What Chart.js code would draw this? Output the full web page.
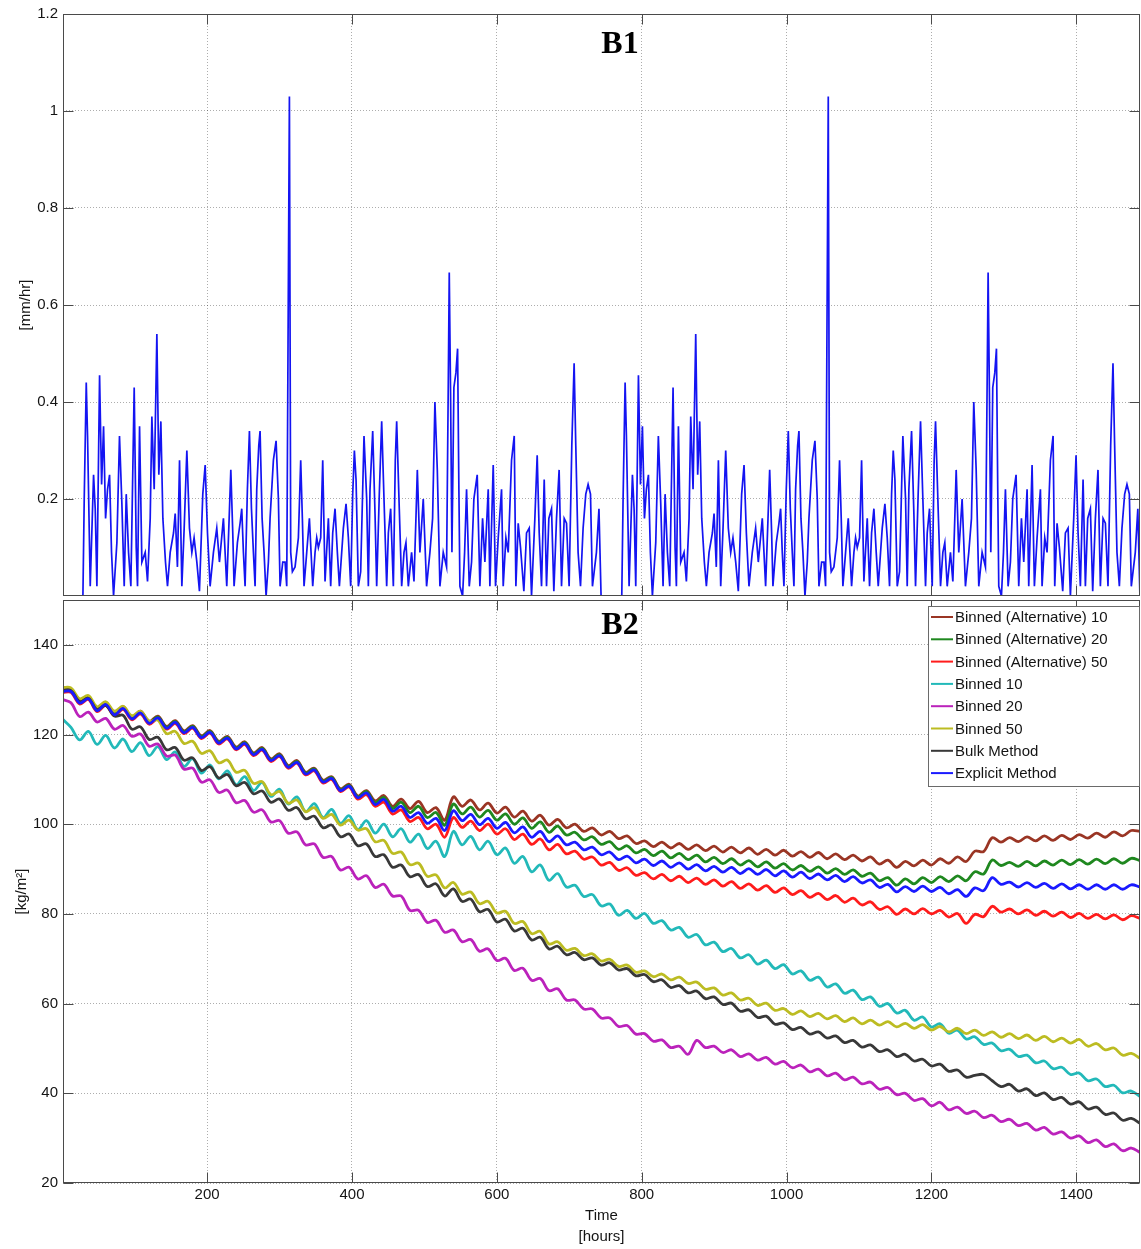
<!DOCTYPE html>
<html>
<head>
<meta charset="utf-8">
<title>B1 / B2</title>
<script src="https://cdn.jsdelivr.net/npm/chart.js@4.4.1/dist/chart.umd.min.js"></script>
<style>
  html, body { margin:0; padding:0; background:#fff; }
  #wrap { position:relative; width:1141px; height:1249px; overflow:hidden; }
  #rain { position:absolute; left:0; top:0; }
  #water { position:absolute; left:0; top:598px; }
</style>
</head>
<body>
<div id="wrap">
  <canvas id="rain" width="1141" height="598"></canvas>
  <canvas id="water" width="1141" height="651"></canvas>
</div>
<script>
// axis ticks
const tickHours = [200, 400, 600, 800, 1000, 1200, 1400];
const rainTicks = [0.2, 0.4, 0.6, 0.8, 1, 1.2];
const waterTicks = [20, 40, 60, 80, 100, 120, 140];

// B1: precipitation [hour, mm/hr]; the forcing repeats after 31 days
const cycleHours = 744;
const rainCycle = [
  [0,0],[28.5,0],[30.3,0.2],[33.1,0.44],[34.9,0.33],[38.6,0.02],[43.2,0.25],[45.5,0.18],[47.8,0.02],[51.5,0.455],
  [54.3,0.23],[57,0.35],[59.8,0.16],[62.5,0.22],[65.3,0.25],[68,0.09],[70.8,0],[75.4,0.11],[79,0.33],[82.3,0.19],
  [85.5,0.02],[88.3,0.21],[91.5,0.09],[94.7,0.02],[99.3,0.43],[102.1,0.1],[103.9,0.02],[106.7,0.35],[109.9,0.07],[114.5,0.09],
  [117.7,0.03],[121.4,0.16],[123.7,0.37],[126.9,0.22],[130.6,0.54],[133.3,0.25],[136.1,0.36],[138.9,0.16],[142.5,0.07],[145.3,0.02],
  [149,0.09],[153.6,0.13],[155.9,0.17],[159,0.06],[161.9,0.28],[165.1,0.02],[168.3,0.14],[172,0.3],[175.6,0.14],[178.9,0.09],
  [182,0.12],[185.8,0.07],[189.4,0.01],[194,0.21],[197.3,0.27],[200.5,0.13],[204.1,0.02],[208.7,0.09],[213.3,0.14],[217,0.07],
  [222.5,0.16],[227.1,0.02],[230.4,0.16],[232.7,0.26],[235.4,0.13],[237.2,0.02],[241.8,0.11],[245.5,0.15],[247.8,0.18],[250.1,0.09],
  [252.4,0.02],[255.6,0.22],[258.4,0.34],[261.2,0.18],[263.9,0.09],[266.2,0.02],[268.5,0.22],[271.3,0.31],[273.1,0.34],[275.9,0.16],
  [278.6,0.09],[281.4,0],[284.6,0.07],[286.9,0.16],[291.5,0.28],[295.2,0.32],[298.4,0.2],[300.7,0.02],[304.4,0.07],[307.6,0.07],
  [309.9,0.02],[311.7,0.52],[313.6,1.03],[315.4,0.09],[317.7,0.05],[321.4,0.06],[326,0.12],[329.2,0.28],[331.5,0.16],[333.8,0.02],
  [337.5,0.09],[341.2,0.16],[343.5,0.09],[345.8,0.02],[349,0.09],[351.3,0.12],[353.6,0.1],[356.8,0.12],[359.6,0.28],[362.8,0.03],
  [367.4,0.16],[370.6,0.02],[373.4,0.13],[376.6,0.18],[379.8,0.09],[382.6,0.02],[385.8,0.09],[388.1,0.14],[391.8,0.19],[395,0.12],
  [398.2,0.02],[401,0.21],[403.3,0.3],[405.6,0.24],[408.8,0.02],[412,0.05],[416.6,0.33],[420.3,0.2],[422.6,0.02],[424.9,0.22],
  [428.6,0.34],[431.8,0.17],[434.1,0.02],[437.7,0.21],[441,0.36],[444.2,0.2],[447.9,0.02],[450.2,0.13],[453.4,0.18],[457.1,0.02],
  [459.8,0.28],[461.7,0.36],[465.3,0.18],[468.6,0.02],[471.8,0.09],[474.5,0.11],[477.8,0.02],[482.3,0.09],[485.6,0.03],[488.3,0.16],
  [490.2,0.26],[493.8,0.09],[498.4,0.2],[503,0.02],[507.6,0.09],[511.3,0.16],[514.5,0.4],[517.8,0.26],[521.4,0.02],[526,0.09],
  [530.6,0.06],[532.9,0.43],[534.3,0.667],[536.1,0.42],[538,0.09],[540.7,0.43],[543.5,0.46],[545.8,0.51],[547.6,0.22],[549,0.02],
  [552.7,0],[555.5,0.09],[558.2,0.22],[561.9,0.02],[565.1,0.07],[568.3,0.2],[571.1,0.23],[572.9,0.25],[576.6,0.02],[580.3,0.16],
  [583.5,0.07],[588.1,0.22],[590.4,0.02],[595,0.27],[598.2,0.02],[601.9,0.12],[606.5,0.22],[608.8,0.02],[612.5,0.12],[615.7,0.09],
  [620.3,0.28],[624,0.33],[626.3,0.02],[629.5,0.15],[632.7,0.1],[637.3,0.01],[641,0.13],[644.7,0.14],[647.9,0],[652.5,0.16],
  [655.7,0.29],[658.5,0.13],[661.7,0.02],[665.4,0.24],[668.6,0.02],[671.8,0.16],[675.5,0.18],[678.7,0.01],[682.4,0.16],[686,0.26],
  [689.3,0.02],[693,0.16],[696.2,0.15],[699.8,0.02],[703.5,0.31],[706.7,0.48],[709,0.31],[712.2,0.09],[715.5,0.02],[719.1,0.14],
  [722.8,0.21],[726,0.23],[729.3,0.21],[732,0.02],[737.5,0.09],[741,0.18],[743.9,0]
];

// B2: one value every 12 hours, 0 .. 1488
const hours = Array.from({length: 125}, (_, i) => i * 12);

const altBinned10 = [
  130.0,130.0,127.4,128.4,125.7,127.1,124.8,126.2,123.9,125.2,
  122.9,124.1,121.8,123.1,120.8,122.0,119.7,120.9,118.5,119.6,
  117.2,118.4,115.9,117.1,114.6,115.7,113.1,114.2,111.6,112.5,
  109.8,110.6,107.9,108.9,106.3,107.5,105.2,106.4,104.0,105.6,
  103.5,105.1,102.6,103.7,100.9,106.1,104.0,105.4,103.2,104.7,
  102.5,103.8,101.6,102.9,100.7,102.0,99.8,101.1,99.2,100.0,
  98.4,99.2,97.6,98.4,96.8,97.4,95.7,96.3,95.0,96.0,
  94.7,95.7,94.4,95.4,94.1,95.1,93.8,94.9,93.6,94.7,
  93.3,94.4,93.1,94.2,92.9,93.9,92.6,93.7,92.3,93.4,
  92.1,93.1,91.8,92.7,91.1,92.0,90.4,91.7,90.7,92.0,
  90.9,92.3,91.3,92.7,91.7,94.0,93.9,97.0,96.0,97.0,
  96.1,97.2,96.3,97.4,96.4,97.5,96.6,97.7,96.9,98.0,
  97.1,98.3,97.4,98.6,98.4
];
const altBinned20 = [
  129.8,129.8,127.2,128.2,125.5,126.9,124.6,126.0,123.7,125.0,
  122.7,123.9,121.6,122.9,120.6,121.8,119.5,120.7,118.3,119.4,
  117.0,118.2,115.7,116.9,114.4,115.5,112.9,114.0,111.4,112.3,
  109.6,110.4,107.7,108.7,106.1,107.3,104.8,106.0,103.5,104.9,
  102.6,104.0,101.5,102.6,99.8,104.5,102.3,103.8,101.6,103.1,
  100.9,102.3,100.0,101.4,99.1,100.5,98.2,99.6,97.6,98.2,
  96.5,97.2,95.5,96.1,94.4,95.2,93.6,94.4,93.0,94.0,
  92.5,93.5,92.1,93.1,91.6,92.6,91.2,92.3,90.9,91.9,
  90.5,91.6,90.2,91.2,89.8,90.8,89.5,90.5,89.1,90.1,
  88.8,89.8,88.4,89.1,87.4,88.1,86.4,87.8,86.7,88.1,
  87.0,88.3,87.2,88.5,87.4,89.4,88.9,92.0,90.8,91.5,
  90.6,91.7,90.7,91.8,90.9,92.0,91.0,92.1,91.1,92.2,
  91.2,92.3,91.3,92.4,91.9
];
const altBinned50 = [
  129.4,129.4,126.8,127.8,125.1,126.5,124.2,125.6,123.3,124.6,
  122.3,123.5,121.2,122.5,120.2,121.4,119.1,120.3,117.9,119.0,
  116.6,117.8,115.3,116.5,114.0,115.1,112.5,113.6,111.0,111.9,
  109.2,110.0,107.3,108.3,105.6,106.6,104.0,104.9,102.3,103.2,
  100.6,101.5,99.0,100.0,97.1,101.5,99.3,100.7,98.6,100.0,
  97.8,99.0,96.6,97.8,95.5,96.7,94.3,95.5,93.4,94.0,
  92.2,92.7,90.9,91.5,89.7,90.3,88.6,89.2,87.8,88.8,
  87.4,88.4,87.0,88.0,86.6,87.6,86.2,87.2,85.7,86.7,
  85.3,86.3,84.8,85.8,84.3,85.2,83.7,84.6,83.2,84.1,
  82.6,83.5,82.0,82.7,81.0,81.6,79.9,81.1,80.0,81.2,
  80.0,80.8,79.3,80.1,77.9,79.9,79.4,81.7,80.4,81.1,
  80.0,80.9,79.7,80.6,79.5,80.4,79.2,80.1,79.0,79.9,
  78.9,79.8,78.7,79.6,79.0
];
const binned10 = [
  123.5,121.6,118.8,120.7,117.8,119.8,117.0,119.0,116.2,118.2,
  115.3,117.3,114.4,116.1,112.9,114.6,111.4,113.2,110.1,111.9,
  108.8,110.6,107.5,109.3,106.2,107.8,104.5,106.1,102.8,104.6,
  101.5,103.3,100.2,101.9,98.8,100.8,98.0,100.0,97.2,99.0,
  96.0,97.8,94.6,96.2,92.8,98.4,95.4,97.3,94.3,96.2,
  93.2,94.7,91.3,92.8,89.4,90.9,87.5,89.0,86.0,86.4,
  83.9,84.3,81.8,82.2,79.7,80.8,79.0,80.1,77.9,78.5,
  76.4,77.0,74.8,75.4,73.1,73.7,71.6,72.3,70.2,70.9,
  68.8,69.7,67.8,68.7,66.6,67.3,65.2,65.9,63.7,64.4,
  62.3,63.0,60.9,61.5,59.4,60.0,57.9,58.5,56.3,57.0,
  54.8,55.5,53.4,54.1,52.1,52.6,50.9,51.2,49.5,49.8,
  48.2,48.5,46.8,47.2,45.5,45.8,44.2,44.5,42.8,43.2,
  41.5,41.8,40.1,40.5,39.3
];
const binned20 = [
  127.8,127.1,124.0,125.0,122.8,123.6,121.2,122.0,119.6,120.1,
  117.4,117.9,115.2,115.4,112.3,112.5,109.4,109.9,107.1,107.6,
  104.8,105.3,102.7,103.2,100.5,100.8,98.0,98.3,95.4,95.6,
  92.6,92.8,89.8,90.4,87.8,88.5,85.9,86.6,84.0,84.0,
  80.8,80.8,78.1,78.6,75.9,76.4,73.8,74.3,71.7,72.2,
  69.6,70.1,67.4,67.9,65.2,65.6,62.9,63.3,60.8,60.8,
  58.8,58.8,56.8,56.8,54.9,55.1,53.2,53.3,51.6,51.9,
  50.2,50.5,48.7,51.8,50.2,50.5,49.1,49.7,48.2,48.8,
  47.4,48.0,46.5,47.1,45.7,46.3,44.8,45.4,43.9,44.5,
  43.0,43.6,42.1,42.5,40.9,41.3,39.7,40.0,38.4,38.8,
  37.2,38.0,36.3,36.9,35.5,36.0,34.6,35.1,33.7,34.2,
  32.8,33.3,31.8,32.4,30.9,31.4,30.0,30.5,29.0,29.6,
  28.1,28.7,27.2,27.8,26.8
];
const binned50 = [
  130.5,130.4,128.0,128.7,126.2,127.3,125.2,126.3,124.2,125.2,
  123.0,123.2,120.2,120.7,118.0,118.5,115.8,116.4,113.7,114.3,
  111.6,112.0,109.1,109.5,106.6,107.3,104.7,105.4,102.8,103.7,
  101.3,102.2,99.8,100.9,98.7,99.0,96.1,96.4,93.5,93.8,
  91.0,91.3,88.4,88.7,85.8,87.0,84.4,84.9,82.3,82.8,
  80.2,80.6,77.9,78.3,75.6,76.1,73.3,73.8,71.9,72.3,
  70.7,71.1,69.5,69.9,68.3,68.6,67.0,67.3,66.0,66.6,
  65.3,65.9,64.5,64.8,63.2,63.5,61.9,62.4,60.8,61.2,
  59.6,60.1,58.5,58.9,57.6,58.4,57.1,57.8,56.6,57.3,
  56.0,56.8,55.5,56.3,55.2,56.0,54.8,55.6,54.5,55.3,
  54.1,54.9,53.7,54.5,53.3,54.1,52.9,53.7,52.5,53.3,
  52.2,53.0,51.8,52.7,51.5,52.3,51.2,52.0,50.5,51.1,
  49.7,50.1,48.5,48.9,47.8
];
const bulkMethod = [
  129.8,129.8,127.3,128.1,125.6,126.5,124.1,124.3,121.2,121.7,
  118.9,119.4,116.6,117.1,114.3,114.8,112.0,112.8,110.3,111.1,
  108.6,109.3,106.8,107.4,104.9,105.6,103.1,103.7,101.2,101.8,
  99.2,99.8,97.2,97.8,95.2,95.6,92.8,93.2,90.4,90.9,
  88.3,88.8,86.1,86.7,84.0,85.6,82.8,83.3,80.5,81.0,
  78.2,78.8,76.2,76.8,74.2,74.8,72.2,72.8,70.9,71.4,
  69.8,70.2,68.6,69.1,67.5,67.8,66.2,66.5,64.9,65.3,
  63.6,64.0,62.4,62.8,61.1,61.5,59.8,60.1,58.3,58.6,
  56.9,57.2,55.4,55.7,54.2,54.7,53.2,53.7,52.3,52.8,
  51.3,51.8,50.3,50.8,49.3,49.7,48.2,48.7,47.2,47.6,
  46.1,46.5,44.9,45.2,43.6,44.0,44.2,42.8,41.5,42.0,
  40.5,41.0,39.5,40.1,38.6,39.1,37.6,38.1,36.5,36.9,
  35.3,35.6,34.0,34.4,33.3
];
const explicitMethod = [
  129.6,129.6,127.0,128.0,125.3,126.7,124.4,125.8,123.5,124.8,
  122.5,123.7,121.4,122.7,120.4,121.6,119.3,120.5,118.1,119.2,
  116.8,118.0,115.5,116.7,114.2,115.3,112.7,113.8,111.2,112.1,
  109.4,110.2,107.5,108.5,105.9,107.0,104.4,105.5,102.9,104.0,
  101.5,102.6,100.2,101.3,98.6,103.0,100.8,102.2,99.9,101.3,
  99.1,100.4,98.1,99.4,97.1,98.4,96.1,97.4,95.4,96.0,
  94.3,94.9,93.2,93.8,92.1,92.9,91.4,92.2,90.8,91.8,
  90.4,91.4,90.0,91.0,89.6,90.6,89.3,90.4,89.0,90.1,
  88.8,89.9,88.5,89.6,88.2,89.3,87.9,88.9,87.6,88.6,
  87.2,88.3,86.9,87.6,85.9,86.6,84.9,86.1,85.0,86.2,
  85.0,85.9,84.5,85.4,83.9,85.8,85.2,88.1,86.6,87.1,
  86.0,87.0,85.9,86.8,85.7,86.7,85.6,86.5,85.5,86.5,
  85.5,86.5,85.5,86.5,86.0
];

const seriesLabels = ['Binned (Alternative) 10', 'Binned (Alternative) 20', 'Binned (Alternative) 50',
  'Binned 10', 'Binned 20', 'Binned 50', 'Bulk Method', 'Explicit Method'];
const seriesValues = [altBinned10, altBinned20, altBinned50, binned10, binned20, binned50, bulkMethod, explicitMethod];
const seriesColors = ['#9a3524', '#1f881f', '#ff1c1c', '#22b9b9', '#bb22bb', '#bcbc22', '#383838', '#1a1aff'];
// explicit method sits on top, the alternative bins underneath
const seriesOrder = [7, 6, 5, 4, 3, 2, 1, 0];

const FONT = '"Liberation Sans", Arial, Helvetica, sans-serif';
const INK = '#141414';

// matlab-ish box: frame, inward tick marks, panel letter
const frame = {
  id: 'frame',
  afterDraw(chart, args, opts) {
    const {ctx, chartArea: a, scales} = chart;
    const L = Math.round(a.left) + 0.5, R = Math.round(a.right) - 0.5;
    const T = Math.round(a.top) + 0.5, B = Math.round(a.bottom) - 0.5;
    ctx.save();
    ctx.strokeStyle = '#4a4a4a';
    ctx.lineWidth = 1;
    ctx.beginPath();
    scales.x.ticks.forEach(t => {
      const px = Math.round(scales.x.getPixelForValue(t.value)) + 0.5;
      ctx.moveTo(px, B); ctx.lineTo(px, B - 10);
      ctx.moveTo(px, T); ctx.lineTo(px, T + 10);
    });
    scales.y.ticks.forEach(t => {
      const py = Math.round(scales.y.getPixelForValue(t.value)) + 0.5;
      ctx.moveTo(L, py); ctx.lineTo(L + 10, py);
      ctx.moveTo(R, py); ctx.lineTo(R - 10, py);
    });
    ctx.stroke();
    ctx.strokeRect(L, T, R - L, B - T);
    ctx.fillStyle = '#000';
    ctx.font = 'bold 32px "Liberation Serif", "DejaVu Serif", serif';
    ctx.textAlign = 'center';
    ctx.textBaseline = 'middle';
    ctx.fillText(opts.label, scales.x.getPixelForValue(opts.at[0]), scales.y.getPixelForValue(opts.at[1]));
    ctx.restore();
  }
};

// boxed legend in the upper right corner of B2
const boxLegend = {
  id: 'boxLegend',
  afterDraw(chart) {
    const {ctx, chartArea: a} = chart;
    const sets = chart.data.datasets;
    const rowH = 22.3;
    const left = Math.round(a.right) - 212, top = Math.round(a.top) + 6;
    const h = Math.round(rowH * sets.length + 2);
    ctx.save();
    ctx.fillStyle = '#fff';
    ctx.fillRect(left, top, a.right - left, h);
    ctx.strokeStyle = '#6a6a6a';
    ctx.lineWidth = 1;
    ctx.strokeRect(left + 0.5, top + 0.5, a.right - left - 1, h);
    ctx.font = '15px ' + FONT;
    ctx.textAlign = 'left';
    ctx.textBaseline = 'middle';
    sets.forEach((ds, i) => {
      const cy = top + 11 + i * rowH;
      ctx.strokeStyle = ds.borderColor;
      ctx.lineWidth = 2;
      ctx.beginPath();
      ctx.moveTo(left + 3, cy); ctx.lineTo(left + 25, cy);
      ctx.stroke();
      ctx.fillStyle = INK;
      ctx.fillText(ds.label, left + 27, cy + 1);
    });
    ctx.restore();
  }
};

const gridOpts = { color: 'rgba(0,0,0,0.32)', lineWidth: 1, drawTicks: false };
const gridBorder = { display: false, dash: [1, 2] };
const fixTicks = list => scale => { scale.ticks = list.map(v => ({value: v})); };
const oneDecimal = v => String(Math.round(v * 10) / 10);
// fixed y-axis width; no extra room for half tick labels above/below the box
const fitY = s => { s.width = 63; s.paddingTop = 0; s.paddingBottom = 0; };

new Chart(document.getElementById('rain'), {
  type: 'line',
  data: {
    datasets: [{
      label: 'precipitation',
      data: rainCycle.map(([h, v]) => ({x: h, y: v}))
        .concat(rainCycle.map(([h, v]) => ({x: h + cycleHours, y: v}))),
      borderColor: '#1414f2',
      borderWidth: 1.7,
      pointRadius: 0,
      tension: 0
    }]
  },
  options: {
    responsive: false,
    animation: false,
    devicePixelRatio: 1,
    layout: { padding: { top: 14, right: 1, bottom: 0, left: 0 } },
    plugins: {
      legend: { display: false },
      tooltip: { enabled: false },
      frame: { label: 'B1', at: [770, 1.136] }
    },
    scales: {
      x: {
        type: 'linear', min: 1, max: 1488,
        afterBuildTicks: fixTicks(tickHours),
        afterFit: s => { s.height = 2; s.paddingLeft = 0; s.paddingRight = 0; },
        ticks: { display: false },
        grid: gridOpts, border: gridBorder
      },
      y: {
        min: 0, max: 1.2,
        afterBuildTicks: fixTicks(rainTicks),
        afterFit: fitY,
        ticks: { padding: 5, color: INK, font: { family: FONT, size: 15 }, callback: oneDecimal },
        grid: gridOpts, border: gridBorder,
        title: { display: true, text: '[mm/hr]', color: INK, font: { family: FONT, size: 15 }, padding: { top: 17, bottom: 0 } }
      }
    }
  },
  plugins: [frame]
});

new Chart(document.getElementById('water'), {
  type: 'line',
  data: {
    datasets: seriesValues.map((vals, k) => ({
      label: seriesLabels[k],
      data: hours.map((h, i) => ({x: h, y: vals[i]})),
      borderColor: seriesColors[k],
      borderWidth: 2.8,
      pointRadius: 0,
      tension: 0.35,
      order: seriesOrder[k]
    }))
  },
  options: {
    responsive: false,
    animation: false,
    devicePixelRatio: 1,
    layout: { padding: { top: 2, right: 1, bottom: 0, left: 0 } },
    plugins: {
      legend: { display: false },
      tooltip: { enabled: false },
      frame: { label: 'B2', at: [770, 144.2] }
    },
    scales: {
      x: {
        type: 'linear', min: 1, max: 1488,
        afterBuildTicks: fixTicks(tickHours),
        afterFit: s => { s.height = 66; s.paddingLeft = 0; s.paddingRight = 0; },
        ticks: { padding: 3, color: INK, maxRotation: 0, font: { family: FONT, size: 15 }, callback: v => String(v) },
        grid: gridOpts, border: gridBorder,
        title: { display: true, text: ['Time', '[hours]'], color: INK,
          font: { family: FONT, size: 15, lineHeight: 1.45 }, padding: { top: 0, bottom: 1 } }
      },
      y: {
        min: 20, max: 150,
        afterBuildTicks: fixTicks(waterTicks),
        afterFit: fitY,
        ticks: { padding: 5, color: INK, font: { family: FONT, size: 15 } },
        grid: gridOpts, border: gridBorder,
        title: { display: true, text: '[kg/m²]', color: INK, font: { family: FONT, size: 15 }, padding: { top: 13, bottom: 0 } }
      }
    }
  },
  plugins: [frame, boxLegend]
});
</script>
</body>
</html>
